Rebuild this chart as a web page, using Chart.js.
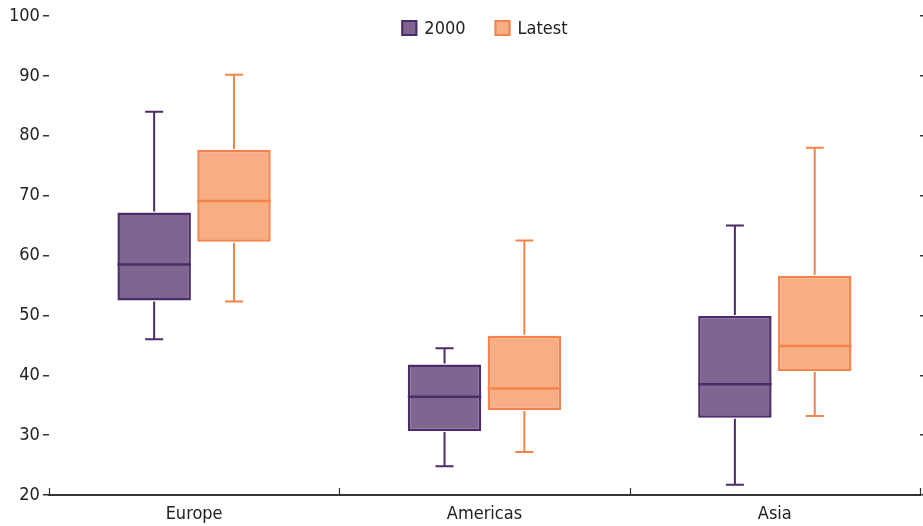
<!DOCTYPE html>
<html>
<head>
<meta charset="utf-8">
<script src="https://cdn.jsdelivr.net/npm/chart.js@4"></script>
<style>
  html, body { margin: 0; padding: 0; background: #fff; }
  #wrap { width: 923px; height: 526px; }
</style>
</head>
<body>
<div id="wrap"><canvas id="chart"></canvas></div>
<script>
const regions = ['Europe', 'Americas', 'Asia']

// 2000
const min2000 = [46.0, 24.8, 21.7]
const q1_2000 = [52.5, 30.7, 32.9]
const med2000 = [58.5, 36.4, 38.5]
const q3_2000 = [67.2, 41.8, 49.9]
const max2000 = [84.0, 44.5, 65.0]

// Latest
const minLatest = [52.3, 27.2, 33.2]
const q1Latest = [62.3, 34.2, 40.7]
const medLatest = [69.1, 37.8, 44.9]
const q3Latest = [77.6, 46.6, 56.6]
const maxLatest = [90.2, 62.5, 78.0]

const yMin = 20
const yMax = 100
const yStep = 10

const fontFamily = "'DejaVu Sans Condensed', 'Liberation Sans', sans-serif"
Chart.defaults.font.family = fontFamily
Chart.defaults.font.size = 18
Chart.defaults.color = '#222'

// whiskers, caps, medians, x axis category ticks and the legend on top
const boxWhiskers = {
  id: 'boxWhiskers',
  afterDatasetsDraw(chart) {
    const ctx = chart.ctx
    const y = chart.scales.y
    const x = chart.scales.x
    chart.data.datasets.forEach((ds, i) => {
      const meta = chart.getDatasetMeta(i)
      meta.data.forEach((bar, j) => {
        const half = bar.width / 2
        const cap = 9
        const pMin = y.getPixelForValue(ds.whiskerMin[j])
        const pMax = y.getPixelForValue(ds.whiskerMax[j])
        const pQ1 = y.getPixelForValue(ds.data[j][0])
        const pQ3 = y.getPixelForValue(ds.data[j][1])
        const pMed = y.getPixelForValue(ds.median[j])
        ctx.save()
        ctx.strokeStyle = ds.borderColor
        ctx.lineWidth = 2
        ctx.beginPath()
        ctx.moveTo(bar.x, pQ3 - 1); ctx.lineTo(bar.x, pMax)
        ctx.moveTo(bar.x - cap, pMax); ctx.lineTo(bar.x + cap, pMax)
        ctx.moveTo(bar.x, pQ1 + 1); ctx.lineTo(bar.x, pMin)
        ctx.moveTo(bar.x - cap, pMin); ctx.lineTo(bar.x + cap, pMin)
        ctx.stroke()
        ctx.lineWidth = 2.5
        ctx.beginPath()
        ctx.moveTo(bar.x - half, pMed); ctx.lineTo(bar.x + half, pMed)
        ctx.stroke()
        ctx.restore()
      })
    })
    // category separators pointing up from the axis line
    const bottom = chart.chartArea.bottom
    ctx.save()
    ctx.strokeStyle = '#333'
    ctx.lineWidth = 1.2
    ctx.beginPath()
    for (let k = 0; k <= regions.length; k++) {
      const px = Math.round(x.getPixelForValue(k - 0.5)) + 0.5
      ctx.moveTo(px, bottom)
      ctx.lineTo(px, bottom - 7)
    }
    ctx.stroke()
    ctx.restore()
  },
  afterDraw(chart) {
    // legend, centred across the top of the plot
    const ctx = chart.ctx
    const area = chart.chartArea
    const box = 16, gapText = 7, gapItem = 29
    ctx.save()
    ctx.font = '18px ' + fontFamily
    const items = chart.data.datasets.map(ds => ({ ds, w: ctx.measureText(ds.label).width }))
    let total = 0
    items.forEach((it, i) => { total += box + gapText + it.w + (i ? gapItem : 0) })
    let cx = (area.left + area.right) / 2 - total / 2
    const cy = area.top + 12
    items.forEach(it => {
      ctx.fillStyle = it.ds.backgroundColor
      ctx.strokeStyle = it.ds.borderColor
      ctx.lineWidth = 2
      ctx.fillRect(cx, cy - box / 2, box, box)
      ctx.strokeRect(cx + 1, cy - box / 2 + 1, box - 2, box - 2)
      ctx.fillStyle = '#222'
      ctx.textBaseline = 'middle'
      ctx.textAlign = 'left'
      ctx.fillText(it.ds.label, cx + box + gapText, cy + 1)
      cx += box + gapText + it.w + gapItem
    })
    ctx.restore()
  }
}

const ctx = document.getElementById('chart').getContext('2d')
const myChart = new Chart(ctx, {
  type: 'bar',
  data: {
    labels: regions,
    datasets: [{
      label: '2000',
      data: regions.map((r, i) => [q1_2000[i], q3_2000[i]]),
      median: med2000,
      whiskerMin: min2000,
      whiskerMax: max2000,
      backgroundColor: '#7f6690',
      borderColor: '#4b2c69',
      borderWidth: 2.5,
      borderSkipped: false
    }, {
      label: 'Latest',
      data: regions.map((r, i) => [q1Latest[i], q3Latest[i]]),
      median: medLatest,
      whiskerMin: minLatest,
      whiskerMax: maxLatest,
      backgroundColor: '#f7ae85',
      borderColor: '#f5844b',
      borderWidth: 2.5,
      borderSkipped: false
    }]
  },
  options: {
    responsive: true,
    maintainAspectRatio: false,
    animation: false,
    categoryPercentage: 0.55,
    barPercentage: 0.92,
    layout: { padding: { left: 6, top: 16, bottom: -7, right: 0 } },
    plugins: {
      tooltip: { enabled: false },
      legend: { display: false }
    },
    scales: {
      x: {
        grid: { display: false, drawTicks: false },
        border: { display: true, color: '#333', width: 2 },
        ticks: { padding: 10, color: '#222', font: { size: 18, lineHeight: 1 } }
      },
      y: {
        min: yMin,
        max: yMax,
        ticks: { stepSize: yStep, padding: 3, color: '#222' },
        grid: { drawOnChartArea: false, drawTicks: true, tickLength: 6, color: '#333', lineWidth: 1.5 },
        border: { display: false }
      },
      y2: {
        position: 'right',
        min: yMin,
        max: yMax,
        ticks: { stepSize: yStep, display: false },
        grid: { drawOnChartArea: false, drawTicks: true, tickLength: 3, color: '#333', lineWidth: 1.5 },
        border: { display: false }
      }
    }
  },
  plugins: [boxWhiskers]
})
</script>
</body>
</html>
